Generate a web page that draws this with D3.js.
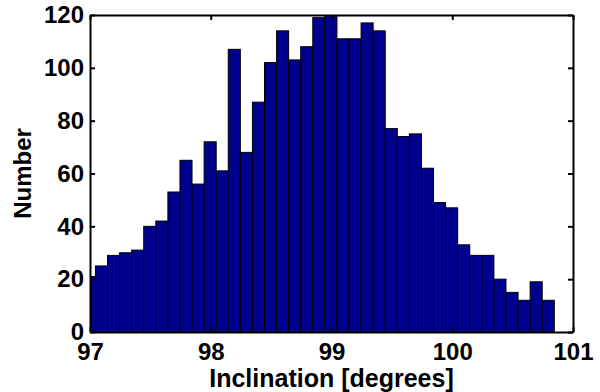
<!DOCTYPE html>
<html>
<meta charset='utf-8'>
<head>
<title>inclination histogram</title>
<script src='https://d3js.org/d3.v7.min.js'></script>
<style>
  body { margin: 0; background: white; }
  text { font-family: 'Liberation Sans', Arial, sans-serif; font-weight: bold; fill: black; }
</style>
</head>

<body>
<div id='my_dataviz'></div>
<script>
// bin centres (degrees) and counts
var binCenters = [96.995, 97.095, 97.195, 97.295, 97.395, 97.495, 97.595, 97.695, 97.795, 97.895,
                  97.995, 98.095, 98.195, 98.295, 98.395, 98.495, 98.595, 98.695, 98.795, 98.895,
                  98.995, 99.095, 99.195, 99.295, 99.395, 99.495, 99.595, 99.695, 99.795, 99.895,
                  99.995, 100.095, 100.195, 100.295, 100.395, 100.495, 100.595, 100.695, 100.795]
var counts = [21, 25, 29, 30, 31, 40, 42, 53, 65, 56,
              72, 61, 107, 68, 87, 102, 114, 103, 108, 119,
              120, 111, 111, 117, 114, 77, 74, 75, 62, 49,
              47, 33, 29, 29, 20, 15, 12, 19, 12]
var binWidth = 0.1
var xTicks = [97, 98, 99, 100, 101]
var yTicks = [0, 20, 40, 60, 80, 100, 120]

var margin = {top: 15, right: 27, bottom: 60, left: 90},
    width = 600 - margin.left - margin.right,
    height = 392 - margin.top - margin.bottom

var svg = d3.select('#my_dataviz')
  .append('svg')
    .attr('width', 600)
    .attr('height', 392)
  .append('g')
    .attr('transform', 'translate(' + margin.left + ',' + margin.top + ')');

var x = d3.scaleLinear()
  .domain([97, 101])
  .range([0, width])
var y = d3.scaleLinear()
  .domain([0, 120])
  .range([height, 0])

svg.append('clipPath')
    .attr('id', 'plotclip')
  .append('rect')
    .attr('width', width)
    .attr('height', height)

svg.append('g')
    .attr('clip-path', 'url(#plotclip)')
  .selectAll('rect')
  .data(counts)
  .enter()
  .append('rect')
    .attr('x', function(d, i) { return x(binCenters[i] - binWidth / 2) })
    .attr('y', function(d) { return y(d) })
    .attr('width', function(d, i) { return x(binCenters[i] + binWidth / 2) - x(binCenters[i] - binWidth / 2) })
    .attr('height', function(d) { return height - y(d) })
    .style('fill', '#00008f')
    .attr('stroke', 'black')
    .attr('stroke-width', 1)

// box with inward ticks on all four sides
var tick = 5
var fmt = d3.format('d')
svg.append('g')
  .attr('transform', 'translate(0,' + height + ')')
  .call(d3.axisBottom(x).tickValues(xTicks).tickFormat(fmt).tickSizeInner(-tick).tickSizeOuter(0).tickPadding(11))
svg.append('g')
  .call(d3.axisTop(x).tickValues(xTicks).tickSizeInner(-tick).tickSizeOuter(0).tickFormat(''))
svg.append('g')
  .call(d3.axisLeft(y).tickValues(yTicks).tickFormat(fmt).tickSizeInner(-tick).tickSizeOuter(0).tickPadding(6))
svg.append('g')
  .attr('transform', 'translate(' + width + ',0)')
  .call(d3.axisRight(y).tickValues(yTicks).tickSizeInner(-tick).tickSizeOuter(0).tickFormat(''))

svg.selectAll('.domain, .tick line')
  .attr('stroke', 'black')
  .attr('stroke-width', 2)
svg.selectAll('.tick text')
  .style('font-size', '24px')
  .style('font-family', "'Liberation Sans', Arial, sans-serif")
  .style('font-weight', 'bold')
  .attr('fill', 'black')

svg.append('text')
  .attr('x', width / 2)
  .attr('y', height + 55)
  .style('text-anchor', 'middle')
  .style('font-size', '25px')
  .text('Inclination [degrees]')

svg.append('text')
  .attr('transform', 'translate(' + (31 - margin.left) + ',' + (height / 2) + ') rotate(-90)')
  .style('text-anchor', 'middle')
  .style('font-size', '24px')
  .text('Number')
</script>
</body>
</html>
